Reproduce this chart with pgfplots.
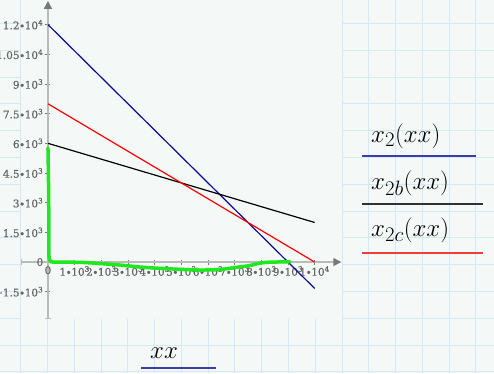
\documentclass[border=0pt]{standalone}
\usepackage[no-math]{fontspec}
\setmainfont{DejaVu Serif}
\newfontfamily\tickfont[BoldFont={DejaVu Serif}, BoldFeatures={FakeBold=0.5}]{DejaVu Serif}
\usepackage{pgfplots}
\pgfplotsset{compat=1.18}
\usetikzlibrary{arrows.meta}
\definecolor{bg}{RGB}{244,248,246}
\definecolor{gridc}{RGB}{214,231,246}
\definecolor{axgray}{RGB}{186,186,186}
\definecolor{arrgray}{RGB}{120,120,120}
\definecolor{tickgray}{RGB}{100,100,100}
\definecolor{mblue}{RGB}{10,10,150}
\definecolor{mgreen}{RGB}{30,232,30}
\definecolor{lblue}{RGB}{60,60,170}
\definecolor{lblack}{RGB}{50,50,50}
\definecolor{lred}{RGB}{240,60,60}
\newcommand\sci[2]{\hbox{#1∙10\textsuperscript{#2}}}
\begin{document}
\begin{tikzpicture}
\useasboundingbox (0,0) rectangle (494pt,373pt);
\fill[bg] (0,0) rectangle (494pt,373pt);
\foreach \i in {0,...,17} {\draw[gridc, line width=0.7pt] ({20.55pt+\i*26.78pt},0) -- ({20.55pt+\i*26.78pt},373pt);}
\foreach \k in {0,...,13} {\draw[gridc, line width=0.7pt] (0,{349.7pt-\k*26.8pt}) -- (494pt,{349.7pt-\k*26.8pt});}
\fill[bg] (20.6pt,54pt) rectangle (341.7pt,373pt);
\begin{axis}[
  at={(21.3pt,53.6pt)}, anchor=south west,
  scale only axis, width=320pt, height=318.5pt,
  xmin=-1000, xmax=11000, ymin=-2900, ymax=13200,
  axis lines=middle, scaled ticks=false,
  axis line style={axgray, line width=1.5pt, arrows={Bar[width=6pt,line width=1pt]-Triangle[length=8pt,width=8pt,color=arrgray]}},
  xtick={0,1000,2000,3000,4000,5000,6000,7000,8000,9000,10000},
  xticklabels={\hbox{0},\sci{1}{3},\sci{2}{3},\sci{3}{3},\sci{4}{3},\sci{5}{3},\sci{6}{3},\sci{7}{3},\sci{8}{3},\sci{9}{3},\sci{1}{4}},
  ytick={-1500,0,1500,3000,4500,6000,7500,9000,10500,12000},
  yticklabels={\sci{−1.5}{3},\hbox{0},\sci{1.5}{3},\sci{3}{3},\sci{4.5}{3},\sci{6}{3},\sci{7.5}{3},\sci{9}{3},\sci{1.05}{4},\sci{1.2}{4}},
  hide obscured x ticks=false, hide obscured y ticks=false,
  tick style={arrgray, line width=0.8pt}, tick align=center, major tick length=5pt,
  ticklabel style={font=\tickfont\bfseries\fontsize{10.5}{12}\selectfont, text=tickgray},
  xticklabel style={anchor=north, inner sep=1.5pt},
  yticklabel style={anchor=east, inner sep=2pt},
]
\addplot[mblue, line width=1.2pt] coordinates {(0,12000) (10000,-1333.3)};
\addplot[black, line width=1.2pt] coordinates {(0,6000) (10000,2000)};
\addplot[red, line width=1.2pt] coordinates {(0,8000) (10000,0)};
\addplot[mgreen, line width=3.5pt, smooth, line cap=round, line join=round] coordinates {
(0,5764) (19,4146) (37,1618) (37,354) (75,101) (187,0) (1200,-15) (1950,-76) (2700,-152)
(3450,-253) (4200,-318) (4950,-369) (5700,-404) (6450,-379) (7010,-278) (7575,-177)
(7875,-76) (8210,-15) (9075,15)};
\end{axis}
\node[anchor=base west, inner sep=0] at (371pt,231pt) {\Huge $x_2(xx)$};
\node[anchor=base west, inner sep=0] at (371pt,183.2pt) {\Huge $x_{2b}(xx)$};
\node[anchor=base west, inner sep=0] at (371pt,136.2pt) {\Huge $x_{2c}(xx)$};
\draw[lblue, line width=1.8pt] (362pt,217.3pt) -- (476pt,217.3pt);
\draw[lblack, line width=1.8pt] (362pt,169pt) -- (483pt,169pt);
\draw[lred, line width=1.8pt] (362pt,120.3pt) -- (483pt,120.3pt);
\node[anchor=base west, inner sep=0] at (150pt,15pt) {\Huge $xx$};
\draw[lblue, line width=1.8pt] (141pt,5pt) -- (216pt,5pt);
\end{tikzpicture}
\end{document}
